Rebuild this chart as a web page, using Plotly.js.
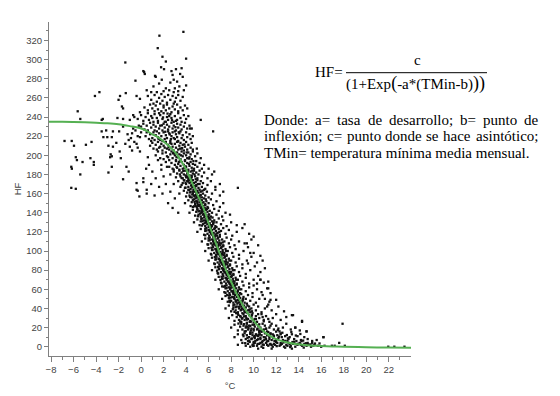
<!DOCTYPE html>
<html>
<head>
<meta charset="utf-8">
<script src="https://cdn.plot.ly/plotly-3.0.1.min.js"></script>
<style>html,body{margin:0;padding:0;background:#fff}#chart{width:560px;height:396px}</style>
</head>
<body>
<div id="chart"></div>
<script>
const coldPts = [[-6.16,215],[-5.96,210],[-5.63,246],[-5.4,238],[-6.2,188],[-6.15,186],[-5.4,180],[-6.2,166],[-5.8,165],[-5.7,195],[-5.2,193],[-4.9,211],[-4.4,214],[-4.5,197],[-4.2,190],[-4.2,193],[-4.1,262],[-3.7,266],[-3.5,237],[-6.8,215],[-5.8,198],[-3.5,225],[-3.1,226],[-2.5,225],[-3.35,219],[-2.6,219],[-2.9,210],[-2.5,209],[-2.7,201],[-2.6,199],[-2.9,182],[-2.6,188],[-2.2,213],[-1.9,204],[-1.8,197],[-1.6,175],[-1.3,188],[-1.1,183],[-1.95,225],[-1.6,230],[-0.4,171],[-0.4,164],[-0.15,157],[0.2,176],[0.2,172],[0.5,164],[0.45,186],[-0.1,204],[-1.0,209],[-1.1,216],[-0.8,223],[-0.7,228],[-0.4,212],[-0.1,219],[-1.87,262],[-2.0,258],[-1.7,251],[-1.6,249],[-1.36,265],[-0.4,262],[-0.1,259],[-3.4,238],[-2.1,239],[-1.6,238],[-1.0,237],[-0.7,242],[-0.6,240],[-0.1,245],[-3.0,219],[-2.75,198],[-1.4,297],[-0.5,278],[0.5,160],[-0.3,163],[-1.2,222],[-0.9,218],[-0.5,226],[-0.3,220],[-0.6,214],[-0.2,231],[0.0,224],[-1.4,212],[-0.8,205],[-0.3,208],[0.7,190],[1.0,183],[1.3,176],[0.9,170],[1.6,167],[1.2,158],[1.8,185],[0.6,198],[1.5,195],[2.0,178],[2.2,170],[1.9,160],[2.4,150],[2.8,145],[3.3,140],[3.0,155],[2.6,162],[2.3,188]];

const topPts = [[1.63,325],[3.76,329],[1.48,312],[1.9,303],[2.2,298],[4.0,301],[1.78,292],[2.04,290],[2.7,288],[3.1,290],[3.6,291],[0.2,288],[0.33,285],[1.24,283],[1.3,282],[2.8,284],[2.9,279],[3.47,285],[3.7,282],[1.84,279],[3.2,277],[4.0,273],[3.4,272],[2.2,270],[2.5,268],[0.27,287],[0.5,268],[1.1,272],[1.6,275],[2.6,276],[3.0,270],[3.8,268],[1.4,266],[2.0,267],[2.9,266],[3.3,267],[0.9,266],[5.3,237],[6.4,225],[4.36,228]];

const upperBand = [
[0.6,262],[0.9,258],[1.2,263],[1.4,256],[1.6,260],[1.8,264],[1.9,257],[2.1,261],[2.3,255],[2.4,263],[2.6,258],[2.8,262],[3.0,256],[3.1,260],[3.3,263],[3.5,257],[3.7,261],[2.0,252],[1.1,254],
[0.3,250],[0.6,247],[0.8,253],[1.0,249],[1.2,246],[1.3,252],[1.5,248],[1.7,254],[1.8,246],[2.0,250],[2.2,247],[2.3,253],[2.5,249],[2.7,245],[2.8,251],[3.0,248],[3.2,253],[3.3,246],[3.5,250],[3.7,247],[3.9,252],[4.1,249],[2.9,254],[1.6,244],
[-0.3,238],[0.0,242],[0.2,236],[0.4,240],[0.6,244],[0.7,237],[0.9,241],[1.1,235],[1.2,243],[1.4,239],[1.5,236],[1.7,242],[1.9,238],[2.0,244],[2.1,235],[2.3,240],[2.4,237],[2.6,243],[2.7,239],[2.9,235],[3.0,241],[3.2,237],[3.3,244],[3.5,239],[3.6,235],[3.8,242],[4.0,238],[4.2,241],[1.0,239],[2.5,241],[3.1,236],
[0.0,230],[0.2,233],[0.3,227],[0.5,231],[0.6,226],[0.8,234],[0.9,229],[1.1,232],[1.2,226],[1.3,230],[1.5,234],[1.6,228],[1.7,231],[1.9,226],[2.0,233],[2.1,229],[2.3,232],[2.4,227],[2.5,230],[2.7,234],[2.8,228],[2.9,231],[3.1,226],[3.2,233],[3.3,229],[3.5,232],[3.6,227],[3.8,230],[3.9,234],[4.1,228],[4.3,231],[4.5,228],[1.4,225],[2.2,235],[3.0,225],
[0.4,220],[0.5,224],[0.7,217],[0.8,222],[1.0,218],[1.1,224],[1.2,216],[1.3,221],[1.5,219],[1.6,223],[1.7,216],[1.8,220],[2.0,224],[2.1,217],[2.2,221],[2.3,218],[2.5,223],[2.6,215],[2.7,220],[2.8,224],[3.0,217],[3.1,222],[3.2,219],[3.3,215],[3.4,223],[3.6,218],[3.7,221],[3.8,216],[4.0,224],[4.1,219],[4.3,222],[4.4,217],[1.9,215],[2.9,218],[3.5,225],[0.9,215],[2.4,225],[4.6,220],
[0.8,210],[1.0,213],[1.1,207],[1.3,211],[1.4,206],[1.5,214],[1.7,209],[1.8,212],[1.9,205],[2.0,210],[2.2,214],[2.3,207],[2.4,211],[2.5,206],[2.6,213],[2.8,209],[2.9,205],[3.0,212],[3.1,208],[3.2,214],[3.3,206],[3.4,210],[3.5,213],[3.6,207],[3.7,211],[3.8,205],[3.9,209],[4.0,214],[4.1,206],[4.2,211],[4.4,208],[4.5,213],[4.6,206],[2.1,208],[2.7,212],[3.45,207],[1.6,208],[4.95,207],
[1.3,200],[1.5,204],[1.7,197],[1.9,202],[2.0,196],[2.2,203],[2.3,199],[2.5,195],[2.6,201],[2.7,204],[2.8,197],[3.0,200],[3.1,195],[3.2,203],[3.3,198],[3.4,201],[3.5,196],[3.6,204],[3.7,199],[3.8,202],[3.9,195],[4.0,200],[4.1,197],[4.2,203],[4.3,198],[4.4,201],[4.5,196],[4.6,204],[4.8,199],[5.0,202],[2.4,198],[2.9,202],[3.55,200],[4.05,203],[3.15,198],[5.3,197]];

const midBand = [
[1.8,190],[2.2,193],[2.5,188],[2.7,192],[2.8,186],[3.0,190],[3.1,194],[3.2,187],[3.3,191],[3.4,185],[3.5,189],[3.6,193],[3.7,186],[3.8,190],[3.9,194],[4.0,188],[4.1,192],[4.2,185],[4.3,189],[4.4,193],[4.5,187],[4.6,191],[4.7,186],[4.8,190],[4.9,194],[5.0,188],[5.2,192],[5.4,186],[3.35,193],[3.85,187],[4.25,191],[4.65,194],[2.9,185],[5.6,190],[6.0,186],
[2.6,180],[2.9,183],[3.1,177],[3.2,181],[3.4,184],[3.5,178],[3.6,182],[3.7,176],[3.8,180],[3.9,184],[4.0,177],[4.1,181],[4.2,175],[4.3,179],[4.4,183],[4.5,177],[4.6,181],[4.7,184],[4.8,178],[4.9,182],[5.0,176],[5.1,180],[5.2,184],[5.4,178],[5.6,182],[5.9,176],[6.3,180],[3.95,179],[4.35,176],[4.55,184],[4.75,180],[3.45,180],[4.15,183],[4.85,175],[6.5,183],
[2.9,170],[3.3,173],[3.5,167],[3.7,171],[3.8,174],[3.9,166],[4.0,170],[4.1,173],[4.2,167],[4.3,171],[4.4,165],[4.5,169],[4.6,174],[4.65,167],[4.7,171],[4.8,165],[4.85,172],[4.9,168],[5.0,174],[5.1,166],[5.2,170],[5.3,173],[5.4,167],[5.5,171],[5.7,165],[5.9,169],[6.2,173],[6.6,167],[4.45,172],[4.75,168],[5.05,170],[4.25,174],[3.6,169],[7.0,170],
[3.4,160],[3.8,163],[4.0,157],[4.1,161],[4.2,164],[4.3,158],[4.4,162],[4.5,156],[4.6,160],[4.65,164],[4.7,158],[4.8,162],[4.85,155],[4.9,159],[5.0,163],[5.05,157],[5.1,161],[5.2,164],[5.25,158],[5.3,162],[5.4,156],[5.5,160],[5.6,164],[5.7,158],[5.85,162],[6.0,156],[6.3,160],[6.6,164],[7.0,158],[7.3,162],[4.55,159],[4.95,161],[5.15,156],[5.45,163],[4.75,157],[8.6,166],
[3.9,150],[4.2,153],[4.4,147],[4.5,151],[4.6,146],[4.7,154],[4.8,149],[4.9,152],[4.95,146],[5.0,150],[5.1,154],[5.15,147],[5.2,151],[5.3,145],[5.35,149],[5.4,153],[5.5,147],[5.55,151],[5.6,155],[5.7,148],[5.8,152],[5.9,146],[6.0,150],[6.2,154],[6.4,148],[6.7,152],[7.0,146],[7.3,150],[5.05,148],[5.25,153],[5.45,150],[5.65,145],[4.85,147],[5.75,154],
[4.3,140],[4.6,143],[4.8,137],[4.9,141],[5.0,144],[5.1,138],[5.2,142],[5.3,136],[5.35,140],[5.4,144],[5.5,138],[5.55,142],[5.6,135],[5.7,139],[5.75,143],[5.8,137],[5.9,141],[5.95,145],[6.0,138],[6.1,142],[6.2,136],[6.3,140],[6.5,144],[6.7,138],[6.9,142],[7.2,136],[7.5,140],[5.45,141],[5.65,137],[5.85,144],[6.05,135],[5.25,139],[7.9,138],
[4.7,130],[5.0,133],[5.2,127],[5.3,131],[5.4,134],[5.5,128],[5.6,132],[5.7,126],[5.75,130],[5.8,134],[5.9,128],[5.95,132],[6.0,125],[6.1,129],[6.15,133],[6.2,127],[6.3,131],[6.35,135],[6.4,128],[6.5,132],[6.6,126],[6.7,130],[6.9,134],[7.1,128],[7.3,132],[7.6,126],[8.0,130],[8.5,127],[5.65,129],[5.85,131],[6.05,134],[6.25,126],[6.45,130],[9.2,128],
[5.0,120],[5.3,123],[5.6,117],[5.7,121],[5.8,124],[5.9,118],[6.0,122],[6.05,116],[6.1,120],[6.2,124],[6.25,118],[6.3,122],[6.4,115],[6.45,119],[6.5,123],[6.6,117],[6.65,121],[6.7,125],[6.8,119],[6.9,123],[7.0,117],[7.1,121],[7.3,124],[7.5,118],[7.8,122],[8.1,116],[8.5,120],[9.0,124],[9.6,118],[6.15,121],[6.35,117],[6.55,124],[6.75,116],[6.95,120],[10.0,115]];

const lowBand = [
[5.4,110],[5.7,113],[5.9,107],[6.0,111],[6.1,114],[6.2,108],[6.3,112],[6.35,106],[6.4,110],[6.5,114],[6.55,108],[6.6,112],[6.7,105],[6.75,109],[6.8,113],[6.9,107],[6.95,111],[7.0,115],[7.1,108],[7.2,112],[7.3,106],[7.4,110],[7.6,114],[7.8,108],[8.0,112],[8.3,106],[8.7,110],[9.2,108],[9.8,112],[6.45,107],[6.65,110],[6.85,114],[7.05,106],[7.25,109],[10.4,106],
[5.7,100],[6.0,103],[6.2,97],[6.3,101],[6.4,104],[6.5,98],[6.6,102],[6.65,96],[6.7,100],[6.8,104],[6.85,98],[6.9,102],[7.0,95],[7.05,99],[7.1,103],[7.2,97],[7.25,101],[7.3,105],[7.4,98],[7.5,102],[7.6,96],[7.7,100],[7.9,104],[8.1,98],[8.4,102],[8.7,96],[9.1,100],[9.5,104],[10.0,98],[6.75,101],[6.95,97],[7.15,104],[7.35,96],[7.55,100],[10.6,95],
[6.0,90],[6.3,93],[6.5,87],[6.6,91],[6.7,94],[6.8,88],[6.9,92],[6.95,86],[7.0,90],[7.1,94],[7.15,88],[7.2,92],[7.3,85],[7.35,89],[7.4,93],[7.5,87],[7.55,91],[7.6,95],[7.7,88],[7.8,92],[7.9,86],[8.0,90],[8.2,94],[8.4,88],[8.7,92],[9.0,86],[9.4,90],[9.8,94],[10.3,88],[7.05,91],[7.25,87],[7.45,94],[7.65,86],[7.85,90],[10.8,90],
[6.3,80],[6.6,83],[6.8,77],[6.9,81],[7.0,84],[7.1,78],[7.2,82],[7.25,76],[7.3,80],[7.4,84],[7.45,78],[7.5,82],[7.6,75],[7.65,79],[7.7,83],[7.8,77],[7.85,81],[7.9,85],[8.0,78],[8.1,82],[8.2,76],[8.3,80],[8.5,84],[8.7,78],[9.0,82],[9.3,76],[9.7,80],[10.1,84],[10.6,78],[7.35,81],[7.55,77],[7.75,84],[7.95,76],[8.15,80],[11.0,82],
[6.6,70],[6.9,73],[7.1,67],[7.2,71],[7.3,74],[7.4,68],[7.5,72],[7.55,66],[7.6,70],[7.7,74],[7.75,68],[7.8,72],[7.9,65],[7.95,69],[8.0,73],[8.1,67],[8.15,71],[8.2,75],[8.3,68],[8.4,72],[8.5,66],[8.6,70],[8.8,74],[9.0,68],[9.3,72],[9.6,66],[10.0,70],[10.4,74],[10.6,70],[10.9,67],[7.65,71],[7.85,67],[8.05,74],[8.25,66],[8.45,70],[11.3,68],
[6.9,60],[7.2,63],[7.4,57],[7.5,61],[7.6,64],[7.7,58],[7.8,62],[7.85,56],[7.9,60],[8.0,64],[8.05,58],[8.1,62],[8.2,55],[8.25,59],[8.3,63],[8.4,57],[8.45,61],[8.5,65],[8.6,58],[8.7,62],[8.8,56],[8.9,60],[9.1,64],[9.3,58],[9.6,62],[9.9,56],[10.0,64],[10.3,60],[10.7,57],[11.2,61],[11.5,56],[7.95,61],[8.15,57],[8.35,64],[8.55,56],[8.75,60],
[7.2,50],[7.5,53],[7.7,47],[7.8,51],[7.9,54],[8.0,48],[8.1,52],[8.2,46],[8.3,50],[8.35,54],[8.4,48],[8.5,52],[8.55,45],[8.6,49],[8.7,53],[8.75,47],[8.8,51],[8.9,55],[9.0,48],[9.1,52],[9.2,46],[9.3,50],[9.5,54],[9.7,48],[9.9,52],[10.2,46],[10.5,50],[10.8,54],[11.0,50],[11.4,47],[8.25,51],[8.45,47],[8.65,54],[8.85,46],[9.05,50],[12.0,49]];

const tailBand = [
[7.5,40],[7.8,43],[8.0,37],[8.2,41],[8.3,44],[8.4,38],[8.5,42],[8.6,36],[8.7,40],[8.8,44],[8.85,38],[8.9,42],[9.0,35],[9.1,39],[9.15,43],[9.2,37],[9.3,41],[9.4,45],[9.5,38],[9.6,42],[9.7,36],[9.8,40],[10.0,44],[10.2,38],[10.4,42],[10.7,36],[11.0,40],[11.3,44],[11.6,38],[12.2,42],[8.95,40],[9.25,36],[9.45,43],[9.65,39],[9.85,37],[12.7,37],
[7.8,30],[8.1,33],[8.3,27],[8.5,31],[8.6,34],[8.7,28],[8.8,32],[8.9,26],[9.0,30],[9.1,34],[9.2,28],[9.3,32],[9.4,25],[9.5,29],[9.6,33],[9.7,27],[9.8,31],[9.9,35],[10.0,28],[10.2,32],[10.3,26],[10.5,30],[10.7,34],[10.9,28],[11.1,32],[11.4,26],[11.7,30],[12.0,34],[12.4,28],[12.9,31],[13.5,33],[14.3,27],[9.35,30],[9.65,26],[9.85,33],[10.1,29],[10.4,34],[10.8,31],[11.3,29],
[8.0,20],[8.3,23],[8.6,17],[8.8,21],[8.9,24],[9.0,18],[9.1,22],[9.2,16],[9.3,20],[9.4,24],[9.5,18],[9.6,22],[9.7,15],[9.8,19],[9.9,23],[10.0,17],[10.1,21],[10.2,25],[10.3,18],[10.4,22],[10.5,16],[10.6,20],[10.8,24],[10.9,18],[11.0,22],[11.2,16],[11.4,20],[11.6,24],[11.8,18],[12.0,22],[12.3,16],[12.6,20],[12.9,24],[13.3,18],[13.7,20],[14.1,17],[14.7,16],[9.45,21],[9.75,17],[10.05,23],[10.35,19],[10.7,17],[11.1,19],[11.5,22],[12.2,19],
[8.3,10],[8.6,13],[8.9,7],[9.1,11],[9.2,14],[9.3,8],[9.4,12],[9.5,6],[9.6,10],[9.7,14],[9.8,8],[9.9,12],[10.0,5],[10.1,9],[10.2,13],[10.3,7],[10.4,11],[10.5,15],[10.6,8],[10.7,12],[10.8,6],[10.9,10],[11.0,14],[11.1,8],[11.2,12],[11.3,6],[11.4,10],[11.5,14],[11.6,7],[11.8,11],[12.0,5],[12.2,9],[12.4,13],[12.6,7],[12.8,11],[13.0,6],[13.2,10],[13.4,13],[13.6,8],[13.9,11],[14.2,7],[14.5,10],[14.8,8],[15.2,6],[16.2,10],[15.6,7],[10.15,6],[10.55,13],[10.95,7],[11.35,12],[11.75,9],[12.1,12],[12.5,10],[13.1,8],[13.8,6],
[8.6,2],[9.0,4],[9.3,1],[9.5,3],[9.7,0],[9.9,2],[10.1,4],[10.3,1],[10.5,3],[10.7,0],[10.9,2],[11.1,4],[11.3,1],[11.5,3],[11.7,0],[11.9,2],[12.1,4],[12.3,1],[12.5,3],[12.7,0],[12.9,2],[13.1,4],[13.3,1],[13.5,3],[13.7,0],[13.9,2],[14.1,4],[14.3,1],[14.5,3],[14.7,1],[14.9,2],[15.1,0],[15.4,2],[15.7,1],[16.0,0],[16.3,1],[16.95,1],[17.2,1],[17.6,4],[18.1,1],[21.96,0],[22.5,0],[23.4,0],[10.0,1],[10.6,4],[11.2,2],[11.8,3],[12.4,2],[13.0,1],[13.6,4],[14.2,2],[14.8,4],[17.9,24],[10.4,-2],[11.6,-2],[12.8,-1],[13.4,-2]];

const rightArm = [[9.4,108],[9.7,98],[9.5,87],[10.6,70],[11.3,61],[10.3,66],[11.5,49],[11.2,42],[13.4,33],[14.3,26],[13.7,20],[14.7,16],[16.2,10]];

// dense core hugging the fitted line (darkest part of the cloud)
const coreBand = [
[3.6,176.3],[3.85,173.8],[4.05,178.1],[4.2,172.6],[4.4,175.4],[3.95,171.2],[4.5,178.7],[4.15,176.9],
[3.95,166.2],[4.25,163.7],[4.45,168.4],[4.6,161.9],[4.8,165.3],[4.35,161.2],[4.9,168.8],[4.55,166.6],
[4.35,156.4],[4.6,153.1],[4.85,158.2],[5.0,151.8],[5.2,155.7],[4.75,151.3],[5.3,158.6],[4.95,156.2],
[4.7,146.7],[5.0,143.2],[5.2,148.4],[5.4,141.6],[5.6,145.1],[5.1,141.4],[5.7,148.9],[5.35,146.3],
[5.05,136.3],[5.35,133.6],[5.55,138.7],[5.75,131.8],[5.95,135.4],[5.45,131.1],[6.05,138.2],[5.7,136.8],
[5.4,126.6],[5.7,123.2],[5.9,128.3],[6.1,121.7],[6.3,125.9],[5.8,121.4],[6.4,128.8],[6.05,126.1],
[5.7,116.4],[6.0,113.3],[6.2,118.6],[6.4,111.8],[6.55,115.2],[6.1,111.3],[6.7,118.3],[6.35,116.7],
[5.95,106.7],[6.25,103.4],[6.45,108.1],[6.65,101.9],[6.85,105.5],[6.35,101.2],[6.95,108.7],[6.6,106.3],
[6.25,96.2],[6.55,93.6],[6.75,98.4],[6.9,91.7],[7.15,95.3],[6.65,91.4],[7.25,98.8],[6.85,96.6],
[6.55,86.3],[6.85,83.4],[7.05,88.2],[7.25,81.6],[7.45,85.7],[6.95,81.3],[7.55,88.9],[7.2,86.1],
[6.85,76.4],[7.15,73.2],[7.35,78.6],[7.55,71.7],[7.75,75.3],[7.25,71.4],[7.85,78.2],[7.5,76.8],
[7.15,66.2],[7.45,63.5],[7.7,68.3],[7.9,61.8],[8.1,65.6],[7.6,61.2],[8.2,68.7],[7.85,66.1],
[7.5,56.3],[7.8,53.4],[8.05,58.1],[8.25,51.7],[8.5,55.2],[7.95,51.3],[8.6,58.8],[8.2,56.4],
[7.9,46.6],[8.2,43.3],[8.45,48.2],[8.7,41.8],[8.95,45.4],[8.4,41.2],[9.05,48.7],[8.65,46.1],
[8.3,36.4],[8.65,33.2],[8.9,38.6],[9.15,31.7],[9.45,35.3],[8.85,31.4],[9.6,38.3],[9.2,36.7],
[8.8,26.3],[9.15,23.6],[9.4,28.4],[9.7,21.8],[10.0,25.5],[9.35,21.3],[10.2,28.8],[9.75,26.2],[10.5,23.4],[10.9,26.6],
[9.3,16.2],[9.7,13.4],[10.0,18.3],[10.3,11.7],[10.7,15.6],[10.1,11.2],[11.1,18.6],[10.5,16.9],[11.5,13.3],[12.0,15.8],[11.8,11.6],[12.4,13.9],
[9.6,6.3],[10.0,3.4],[10.4,7.8],[10.8,2.2],[11.2,5.6],[11.6,1.7],[12.0,7.2],[12.4,3.8],[12.8,6.1],[13.2,2.6],[13.6,5.2],[14.0,3.1],[14.4,6.4],[14.8,2.3],[15.2,4.1],[9.85,8.6],[10.6,9.4],[11.4,8.1],
[2.35,243.6],[2.75,236.7],[3.05,229.4],[2.55,221.8],[3.25,214.3],[3.65,207.6],[2.85,202.2],[3.45,194.7],[3.95,188.3],[3.75,183.6],[2.65,216.9],[1.85,231.3],[2.15,224.6],[3.35,224.1],[3.85,211.4],[4.25,196.6],[3.15,187.9],[2.45,208.7],[1.95,239.6],[1.55,217.3]];

// extra points in the dark low tail and along the left edge of the steep part
const tailCore = [[9.25,3.7],[9.65,5.1],[10.05,10.4],[10.35,2.9],[10.75,4.7],[11.05,9.8],[11.45,2.4],[11.85,5.9],[12.25,10.6],[12.65,4.4],[13.05,8.7],[13.45,4.9],[13.85,2.8],[14.25,5.7],[14.65,3.6],[15.05,2.4],[15.45,3.3],[9.45,9.3],[9.9,14.7],[10.45,12.6],[10.85,17.1],[11.3,15.2],[11.7,12.9],[12.15,17.4],[12.55,14.6],[12.95,12.2],[13.35,15.4],[13.75,11.7],[14.15,13.3],[9.05,12.6],[9.55,19.4],[8.65,24.2],[8.95,29.3],[8.45,35.1],[8.15,39.2],[7.85,48.3],[7.65,54.1],[7.35,62.7],[7.05,69.8],[6.75,79.4],[9.95,0.8],[10.85,-1.2],[12.05,0.6],[13.25,-0.4],[14.45,-0.9],[15.3,1.1],[15.85,3.4]];

// ---- fitted curve, values ----
const curveX = [-8.2,-7,-6,-5,-4,-3,-2,-1,0,0.5,1,1.5,2,2.5,3,3.5,4,4.5,5,5.5,6,6.5,7,7.5,8,8.5,9,9.5,10,10.5,11,11.5,12,13,14,15,16,17,18,20,22,24];
const curveY = [235,235,234.8,234.5,234,233.5,232.5,230.5,228,225.5,222,219,214.5,209.5,203.5,195,185.5,172,159,146,129,113,97,81.5,68,55,44,34.5,27,20.5,15,11,8,4.5,2.5,1.2,0.8,0.3,0,-0.6,-0.9,-1];

const xTickVals = [-8,-6,-4,-2,0,2,4,6,8,10,12,14,16,18,20,22];
const yTickVals = [0,20,40,60,80,100,120,140,160,180,200,220,240,260,280,300,320];

const line1Words = ['Donde:','a=','tasa','de','desarrollo;','b=','punto','de'];
const line2Words = ['inflexión;','c=','punto','donde','se','hace','asintótico;'];
const line3Text = 'TMin= temperatura mínima media mensual.';

const allPts = [].concat(coldPts, topPts, upperBand, midBand, lowBand, tailBand, rightArm, coreBand, tailCore);
const ptX = allPts.map(p => p[0]);
const ptY = allPts.map(p => p[1]);

const axisColor = '#808080';
const tickFont = {family: 'Liberation Sans, Arial, sans-serif', size: 9.5, color: '#444'};
const serifFam = 'Liberation Serif, Times New Roman, serif';
const TXT = 15;

const traces = [
  {x: ptX, y: ptY, type: 'scatter', mode: 'markers',
   marker: {symbol: 'square', size: 2.3, color: '#111', line: {width: 0}},
   hoverinfo: 'skip', showlegend: false},
  {x: curveX, y: curveY, type: 'scatter', mode: 'lines',
   line: {color: '#55b052', width: 2, shape: 'spline', smoothing: 1},
   hoverinfo: 'skip', showlegend: false}
];

// paper coordinates helper (plot area: 49..411 px wide, 22..356 px tall)
const L = 49, R = 411, T = 22, B = 356;
const px = X => (X - L) / (R - L);
const py = Y => (B - Y) / (B - T);

const txtFont = {family: serifFam, size: TXT, color: '#000'};
function word(text, xLeft, yMid) {
  return {text: text, xref: 'paper', yref: 'paper', x: px(xLeft - 2), y: py(yMid),
          xanchor: 'left', yanchor: 'middle', showarrow: false, font: txtFont};
}

// justified placement of a line of words between two pixel edges
const ctx = document.createElement('canvas').getContext('2d');
ctx.font = TXT + 'px "Liberation Serif"';
function justify(words, x0, x1, yMid) {
  const widths = words.map(w => ctx.measureText(w).width);
  const total = widths.reduce((a, b) => a + b, 0);
  const gap = (x1 - x0 - total) / (words.length - 1);
  let x = x0;
  return words.map((w, i) => { const a = word(w, x, yMid); x += widths[i] + gap; return a; });
}

const annotations = [].concat(
  justify(line1Words, 264, 538, 119.7),
  justify(line2Words, 264, 538, 136.1),
  [word(line3Text, 264, 152.7), word('HF=', 315, 72.4)]
);
annotations.push({text: 'c', xref: 'paper', yref: 'paper', x: px(417), y: py(60.4),
  xanchor: 'center', yanchor: 'middle', showarrow: false, font: txtFont});
annotations.push({text: '(1+Exp<span style="font-size:18px">(</span>-a*(TMin-b)<span style="font-size:18px">))</span>',
  xref: 'paper', yref: 'paper', x: px(416), y: py(83.1),
  xanchor: 'center', yanchor: 'middle', showarrow: false, font: txtFont});

const layout = {
  width: 560, height: 396,
  margin: {l: L, r: 560 - R, t: T, b: 396 - B, pad: 0},
  paper_bgcolor: '#fff', plot_bgcolor: '#fff',
  showlegend: false,
  font: tickFont,
  xaxis: {
    range: [-8.18, 23.98], showgrid: false, zeroline: false,
    showline: true, linecolor: axisColor, linewidth: 1,
    ticks: 'outside', ticklen: 4.5, tickcolor: axisColor, tickwidth: 1,
    tickmode: 'array', tickvals: xTickVals, tickfont: tickFont,
    minor: {dtick: 1, tick0: 0, ticks: 'outside', ticklen: 2.5, tickcolor: axisColor, showgrid: false},
    title: {text: '°C', font: tickFont, standoff: 8}
  },
  yaxis: {
    range: [-9.7, 339.3], showgrid: false, zeroline: false,
    showline: true, linecolor: axisColor, linewidth: 1,
    ticks: 'outside', ticklen: 4, tickcolor: axisColor, tickwidth: 1,
    tickmode: 'array', tickvals: yTickVals, tickfont: tickFont,
    minor: {dtick: 10, tick0: 0, ticks: 'outside', ticklen: 2.5, tickcolor: axisColor, showgrid: false},
    title: {text: 'HF', font: tickFont, standoff: 2}
  },
  shapes: [{type: 'line', xref: 'paper', yref: 'paper', x0: px(346), x1: px(487),
            y0: py(72.7), y1: py(72.7), line: {color: '#000', width: 1}}],
  annotations: annotations
};

Plotly.newPlot('chart', traces, layout, {displayModeBar: false, staticPlot: true});
</script>
</body>
</html>
